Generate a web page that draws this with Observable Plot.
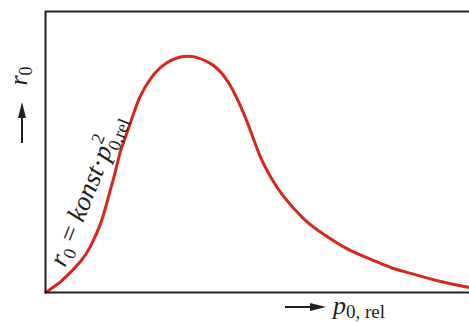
<!DOCTYPE html>
<html><head><meta charset="utf-8">
<script src="https://cdn.jsdelivr.net/npm/d3@7"></script>
<script src="https://cdn.jsdelivr.net/npm/@observablehq/plot@0.6"></script>
<style>body{margin:0;background:#fff} svg{display:block}</style>
</head><body><div id="chart"></div>
<script>
// relative pressure p0,rel (x) and r0 (y), arbitrary units 0..100
const pRel = [0,2.4,4.7,8.3,10.6,13.0,14.9,16.5,17.7,18.9,20.5,22.4,24.8,27.1,29.5,31.8,33.5,35.4,38.2,40.6,43.6,46.7,48.8,50.7,53.1,56.1,60.8,65.6,71.2,76.7,81.4,86.1,93.2,100];
const r0 = [0,2.5,5.4,11.1,16.4,24.6,34.3,43.2,50.4,55.5,62.5,70.0,76.1,80.0,82.5,83.8,84.1,83.75,82.1,79.6,73.6,63.9,55.7,48.2,41.1,34.3,26.4,20.7,15.5,11.8,8.9,6.8,3.9,1.8];
const curve = pRel.map((p, i) => ({p, r: r0[i]}));

const ink = "#231f20";
const red = "#d9261c";
const serif = "'Liberation Serif', 'Times New Roman', serif";

function annotations(index, scales, values, dims) {
  const {width, height, marginLeft, marginTop, marginBottom} = dims;
  const bottom = height - marginBottom;
  const g = d3.create("svg:g").attr("font-family", serif).attr("fill", ink)
    .attr("text-anchor", "start");

  // vertical axis arrow + label
  const ax = marginLeft - 23;
  g.append("line").attr("x1", ax).attr("x2", ax).attr("y1", 143).attr("y2", 114)
    .attr("stroke", ink).attr("stroke-width", 2);
  g.append("path").attr("d", `M${ax},102 L${ax-4},118 L${ax+4},118 Z`).attr("fill", ink);
  const yl = g.append("text").attr("transform", `translate(${ax + 5},76) rotate(-90)`)
    .attr("text-anchor", "middle").attr("font-size", 26).style("white-space", "pre");
  yl.append("tspan").attr("font-style", "italic").text("r");
  yl.append("tspan").attr("font-size", 18).attr("dy", 5).text("0");

  // horizontal axis arrow + label
  const ay = bottom + 15;
  g.append("line").attr("x1", 285).attr("x2", 314).attr("y1", ay).attr("y2", ay)
    .attr("stroke", ink).attr("stroke-width", 2);
  g.append("path").attr("d", `M326,${ay} L310,${ay-4} L310,${ay+4} Z`).attr("fill", ink);
  const xl = g.append("text").attr("x", 333).attr("y", bottom + 22)
    .attr("font-size", 26).style("white-space", "pre");
  xl.append("tspan").attr("font-style", "italic").text("p");
  xl.append("tspan").attr("font-size", 19).attr("dy", 4).text("0, rel");

  // formula along the rising branch
  const f = g.append("text").attr("transform", "translate(65,268) rotate(-68)")
    .attr("font-size", 27).style("white-space", "pre");
  f.append("tspan").attr("font-style", "italic").text("r");
  f.append("tspan").attr("font-size", 18).attr("dy", 5).text("0");
  f.append("tspan").attr("dy", -5).text(" = ");
  f.append("tspan").attr("font-style", "italic").text("konst");
  f.append("tspan").text("·");
  f.append("tspan").attr("font-style", "italic").text("p");
  f.append("tspan").attr("font-size", 18).attr("dy", -12).text("2");
  f.append("tspan").attr("font-size", 18).attr("dx", -9).attr("dy", 18).text("0,rel");
  return g.node();
}

const chart = Plot.plot({
  width: 469,
  height: 322,
  marginLeft: 45,
  marginRight: 0,
  marginTop: 11,
  marginBottom: 30,
  x: {domain: [0, 100], axis: null},
  y: {domain: [0, 100], axis: null},
  marks: [
    Plot.line(curve, {x: "p", y: "r", stroke: red, strokeWidth: 3, curve: "natural"}),
    Plot.ruleY([0, 100], {stroke: ink, strokeWidth: 2}),
    Plot.ruleX([0], {stroke: ink, strokeWidth: 2}),
    annotations
  ]
});
document.getElementById("chart").appendChild(chart);
</script>
</body></html>
